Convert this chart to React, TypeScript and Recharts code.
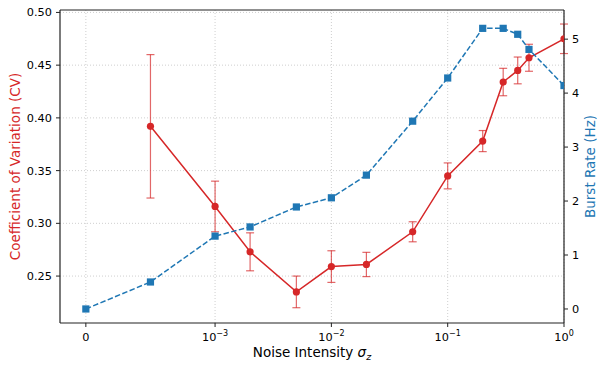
import React from 'react';
import {
  ComposedChart,
  Line,
  XAxis,
  YAxis,
  CartesianGrid,
  ErrorBar,
  ReferenceLine,
} from 'recharts';

const noiseLevels = [0, 5e-4, 1e-3, 2e-3, 5e-3, 1e-2, 2e-2, 5e-2, 0.1, 0.2, 0.3, 0.4, 0.5, 1.0];
const cvValues = [null, 0.392, 0.316, 0.273, 0.235, 0.259, 0.261, 0.292, 0.345, 0.378, 0.434, 0.445, 0.457, 0.475];
const cvErrors = [null, 0.068, 0.024, 0.018, 0.015, 0.015, 0.0115, 0.0095, 0.0123, 0.01, 0.013, 0.0127, 0.0128, 0.014];
const burstRates = [0, 0.5, 1.35, 1.52, 1.89, 2.06, 2.48, 3.48, 4.28, 5.2, 5.2, 5.09, 4.81, 4.14];

const xTickValues = [0, 1e-3, 1e-2, 1e-1, 1];
const cvTicks = [0.25, 0.3, 0.35, 0.4, 0.45, 0.5];
const burstTicks = [0, 1, 2, 3, 4, 5];

const RED = '#d62728';
const BLUE = '#1f77b4';
const FONT = '"DejaVu Sans", sans-serif';
const CV_DOMAIN = [0.2055, 0.5023];

// matplotlib-style symlog, linthresh 1e-3, linscale 1
const LINTHRESH = 1e-3;
const LIN_ADJ = 1 / (1 - 1 / 10);
const symlog = (v: number) => {
  const a = Math.abs(v);
  const t = a <= LINTHRESH ? (a / LINTHRESH) * LIN_ADJ : LIN_ADJ + Math.log10(a / LINTHRESH);
  return v < 0 ? -t : t;
};

const cvData = noiseLevels
  .map((x, i) => ({ xt: symlog(x), cv: cvValues[i], err: cvErrors[i] }))
  .filter(d => d.cv !== null);
const burstData = noiseLevels.map((x, i) => ({ xt: symlog(x), rate: burstRates[i] }));

const xTickLabels: Record<string, [string, string]> = {
  '0': ['0', ''],
  '0.001': ['10', '\u22123'],
  '0.01': ['10', '\u22122'],
  '0.1': ['10', '\u22121'],
  '1': ['10', '0'],
};

const XTick = ({ x, y, payload }: any) => {
  const raw = xTickValues.find(v => Math.abs(symlog(v) - payload.value) < 1e-6);
  const [base, exp] = xTickLabels[String(raw)] || ['', ''];
  return (
    <text x={x} y={y + 12} textAnchor="middle" fontFamily={FONT} fontSize={11.3} fill="#000">
      {base}
      {exp && (
        <tspan dy={-5} fontSize={8}>
          {exp}
        </tspan>
      )}
    </text>
  );
};

const Square = ({ cx, cy }: any) => {
  if (cx == null || cy == null) return null;
  return <rect x={cx - 3.6} y={cy - 3.6} width={7.2} height={7.2} fill={BLUE} />;
};

export default function App() {
  return (
    <div style={{ width: 597, height: 369, background: '#fff' }}>
      <style>{`body{margin:0}`}</style>
      <ComposedChart width={597} height={369} margin={{ top: 10, right: 0, bottom: 0, left: 0 }}>
        <CartesianGrid
          yAxisId="cv"
          stroke="#cfcfcf"
          strokeDasharray="1 2"
          horizontalValues={cvTicks}
          verticalValues={xTickValues.map(symlog)}
        />
        <XAxis
          type="number"
          dataKey="xt"
          domain={[symlog(-2e-4), symlog(1)]}
          ticks={xTickValues.map(symlog)}
          interval={0}
          allowDataOverflow
          height={46}
          tick={<XTick />}
          tickSize={4}
          stroke="#000"
          axisLine={{ stroke: '#222', strokeWidth: 1.2 }}
          tickLine={{ stroke: '#222' }}
          label={({ viewBox }: any) => (
            <text
              x={viewBox.x + viewBox.width / 2}
              y={viewBox.y + 34}
              textAnchor="middle"
              fontFamily={FONT}
              fontSize={13.5}
              fill="#000"
            >
              Noise Intensity <tspan fontStyle="italic">σ</tspan>
              <tspan fontStyle="italic" fontSize={9.5} dy={3}>z</tspan>
            </text>
          )}
        />
        <YAxis
          yAxisId="cv"
          type="number"
          domain={CV_DOMAIN}
          ticks={cvTicks}
          interval={0}
          allowDataOverflow
          width={60}
          tickSize={4}
          tickMargin={4}
          tickFormatter={(v: number) => v.toFixed(2)}
          tick={{ fill: '#000', fontSize: 11.3, fontFamily: FONT }}
          axisLine={{ stroke: '#222', strokeWidth: 1.2 }}
          tickLine={{ stroke: '#222' }}
          label={({ viewBox }: any) => {
            const cx = viewBox.x + 15;
            const cy = viewBox.y + viewBox.height / 2;
            return (
              <text
                x={cx}
                y={cy}
                transform={`rotate(-90 ${cx} ${cy})`}
                textAnchor="middle"
                dominantBaseline="central"
                fontFamily={FONT}
                fontSize={13.5}
                fill={RED}
              >
                Coefficient of Variation (CV)
              </text>
            );
          }}
        />
        <YAxis
          yAxisId="rate"
          orientation="right"
          type="number"
          domain={[-0.26, 5.54]}
          ticks={burstTicks}
          interval={0}
          allowDataOverflow
          width={33}
          tickSize={4}
          tickMargin={4}
          tick={{ fill: '#000', fontSize: 11.3, fontFamily: FONT }}
          axisLine={{ stroke: '#222', strokeWidth: 1.2 }}
          tickLine={{ stroke: '#222' }}
          label={({ viewBox }: any) => {
            const cx = viewBox.x + 26;
            const cy = viewBox.y + viewBox.height / 2;
            return (
              <text
                x={cx}
                y={cy}
                transform={`rotate(-90 ${cx} ${cy})`}
                textAnchor="middle"
                dominantBaseline="central"
                fontFamily={FONT}
                fontSize={13.5}
                fill={BLUE}
              >
                Burst Rate (Hz)
              </text>
            );
          }}
        />
        {/* top spine */}
        <ReferenceLine yAxisId="cv" y={CV_DOMAIN[1]} stroke="#222" strokeWidth={1.2} ifOverflow="extendDomain" />
        <Line
          yAxisId="cv"
          data={cvData}
          dataKey="cv"
          type="linear"
          stroke={RED}
          strokeWidth={1.5}
          dot={{ r: 3.6, fill: RED, stroke: RED, strokeWidth: 0 }}
          activeDot={false}
          isAnimationActive={false}
        >
          <ErrorBar
            dataKey="err"
            direction="y"
            width={4}
            stroke={RED}
            strokeOpacity={0.7}
            strokeWidth={1.2}
            isAnimationActive={false}
          />
        </Line>
        <Line
          yAxisId="rate"
          data={burstData}
          dataKey="rate"
          type="linear"
          stroke={BLUE}
          strokeWidth={1.5}
          strokeDasharray="5.5 2.4"
          dot={<Square />}
          activeDot={false}
          isAnimationActive={false}
        />
      </ComposedChart>
    </div>
  );
}
